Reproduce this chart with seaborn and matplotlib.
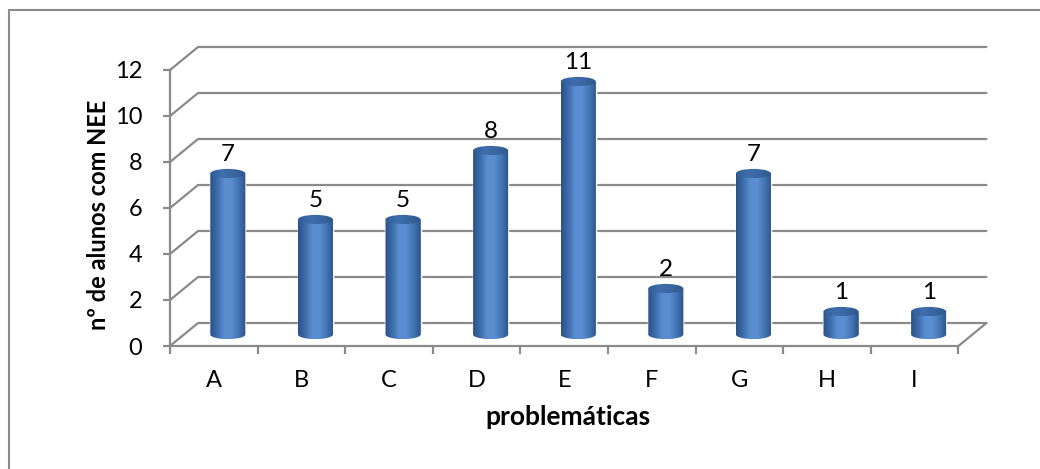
import numpy as np
import pandas as pd
import matplotlib
matplotlib.use("Agg")
import matplotlib.pyplot as plt
from matplotlib.colors import LinearSegmentedColormap
from matplotlib.patches import Ellipse, PathPatch
from matplotlib.path import Path
from matplotlib.lines import Line2D
import seaborn as sns

# ---- data -------------------------------------------------------------
categorias = ["A", "B", "C", "D", "E", "F", "G", "H", "I"]
alunos = [7, 5, 5, 8, 11, 2, 7, 1, 1]
yticks = [0, 2, 4, 6, 8, 10, 12]
titulo_x = "problemáticas"
titulo_y = "nº de alunos com NEE"

# ---- style ------------------------------------------------------------
sns.set_theme(style="white")
plt.rcParams["font.family"] = ["Lato", "DejaVu Sans"]

GRID = "#8a8a8a"
LW = 1.6
DX, DY = 0.32, 1.0      # depth of the back wall (category units, value units)
BAR_W = 0.40            # cylinder diameter in category units
ELL_H = 0.40            # height of the cylinder end ellipses (value units)
FS_TICK = 17
FS_VAL = 17.5
FS_XT = 19
FS_YT = 17

body_cmap = LinearSegmentedColormap.from_list(
    "body", ["#2a5186", "#3c6cab", "#5a8ed1", "#5b8dcf", "#4275b4", "#2c5283"])
top_cmap = LinearSegmentedColormap.from_list(
    "top", ["#305d97", "#3f6eab", "#3966a1", "#2d578c"])

fig = plt.figure(figsize=(10.4, 4.69), dpi=100)
ax = fig.add_axes([170 / 1040, 123 / 469, 820 / 1040, 299 / 469])

df = pd.DataFrame({"problemática": categorias, "alunos": alunos})
sns.barplot(data=df, x="problemática", y="alunos", width=BAR_W,
            color="#4a7ebf", saturation=1, ax=ax)
bars = list(ax.patches)

n = len(categorias)
x0, x1 = -0.5, n - 0.5

# back wall grid with the receding diagonals on the left wall
for v in yticks:
    ax.plot([x0, x0 + DX, x1 + DX], [v, v + DY, v + DY], color=GRID, lw=LW,
            zorder=1, solid_joinstyle="miter", clip_on=False)
# right edge of the floor
ax.plot([x1, x1 + DX], [0, DY], color=GRID, lw=LW, zorder=1, clip_on=False)

# ---- cylinders --------------------------------------------------------
grad = np.linspace(0, 1, 256).reshape(1, -1)
for p, v in zip(bars, alunos):
    p.set_x(p.get_x() + DX / 2)
    p.set_y(DY / 2)
    p.set_zorder(2)
    bx0, bw = p.get_x(), p.get_width()
    cx = bx0 + bw / 2
    yb, yt = p.get_y(), p.get_y() + p.get_height()

    ang = np.linspace(0, -np.pi, 48)
    verts = [(bx0, yt), (bx0 + bw, yt)]
    verts += [(cx + bw / 2 * np.cos(a), yb + ELL_H / 2 * np.sin(a)) for a in ang]
    verts += [(bx0, yt)]
    outline = PathPatch(Path(verts), facecolor="none", edgecolor="none")
    ax.add_patch(outline)
    body = ax.imshow(grad, cmap=body_cmap, aspect="auto", zorder=3,
                     extent=(bx0, bx0 + bw, yb - ELL_H / 2, yt),
                     interpolation="bilinear")
    body.set_clip_path(outline)

    cap = Ellipse((cx, yt), bw, ELL_H, facecolor="none", edgecolor="none")
    ax.add_patch(cap)
    lid = ax.imshow(grad, cmap=top_cmap, aspect="auto", zorder=4,
                    extent=(bx0, bx0 + bw, yt - ELL_H / 2, yt + ELL_H / 2),
                    interpolation="bilinear")
    lid.set_clip_path(cap)

    ax.text(cx, yt + 0.55, str(v), ha="center", va="baseline",
            fontsize=FS_VAL, color="black", zorder=5)

# ---- axes -------------------------------------------------------------
for side in ("top", "right"):
    ax.spines[side].set_visible(False)
for side in ("left", "bottom"):
    ax.spines[side].set_color(GRID)
    ax.spines[side].set_linewidth(LW)
ax.spines["left"].set_bounds(yticks[0], yticks[-1])
ax.spines["bottom"].set_bounds(x0, x1)

ax.set_yticks(yticks)
ax.tick_params(axis="y", left=True, direction="out", length=5, width=LW,
               color=GRID, pad=15, labelsize=FS_TICK, labelcolor="black")

ax.set_xticks(range(n))
ax.set_xticklabels(categorias)
ax.set_xticks(np.arange(n + 1) - 0.5, minor=True)
ax.tick_params(axis="x", which="major", bottom=False, length=0, pad=17.5,
               labelsize=FS_TICK, labelcolor="black")
ax.tick_params(axis="x", which="minor", bottom=True, direction="out",
               length=6, width=LW, color=GRID)

ax.set_xlabel(titulo_x, fontsize=FS_XT, fontweight="bold", color="black")
ax.set_ylabel(titulo_y, fontsize=FS_YT, fontweight="bold", color="black")
ax.xaxis.set_label_coords(0.485, -0.236)
ax.xaxis.label.set_verticalalignment("center")
ax.yaxis.set_label_coords(-0.087, 0.44)
ax.yaxis.label.set_verticalalignment("center")

ax.set_xlim(x0, 820 / 87.6 - 0.5)
ax.set_ylim(0, 13)
ax.patch.set_alpha(0)

# chart frame
fy = 1 - 10 / 469
fx = 9 / 1040
fig.add_artist(Line2D([fx, 1.0], [fy, fy], transform=fig.transFigure,
                      color=GRID, lw=1.5))
fig.add_artist(Line2D([fx, fx], [0.0, fy], transform=fig.transFigure,
                      color=GRID, lw=1.5))

fig.savefig("out.png", dpi=100, facecolor="white")
